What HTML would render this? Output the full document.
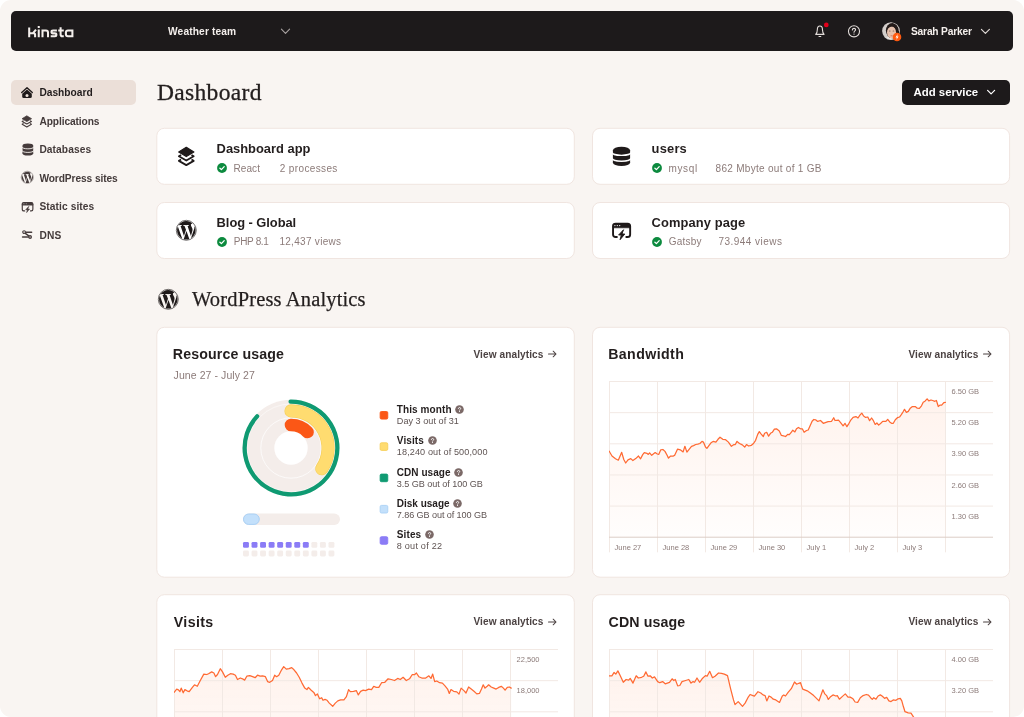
<!DOCTYPE html>
<html lang="en"><head><meta charset="utf-8"><title>Dashboard</title>
<style>
*{box-sizing:border-box;margin:0;padding:0}
html,body{width:1024px;height:717px;overflow:hidden;background:#fff}
body{font-family:"Liberation Sans",sans-serif;color:#231e1e;position:relative}
.page{position:absolute;left:0;top:0;width:1024px;height:717px;background:#f9f5f2;border-radius:11px;overflow:hidden;will-change:transform}
.abs{position:absolute;white-space:nowrap}
.topbar{position:absolute;left:11px;top:11px;width:1002px;height:40px;background:#1d1a1b;border-radius:5px}
.tb-text{color:#f4efec;font-weight:bold;font-size:10.2px;line-height:12px}
.nav-pill{position:absolute;left:11px;top:80px;width:125px;height:25px;background:#ebdfd8;border-radius:5px}
.nav{font-weight:bold;font-size:10.2px;line-height:12px;color:#433a3a;left:39.4px}
.nav.act{color:#221d1d}
.h1{font-family:"Liberation Serif",serif;font-size:23.5px;line-height:28px;color:#231e1e;letter-spacing:0.33px;-webkit-text-stroke:0.3px #231e1e}
.h2{font-family:"Liberation Serif",serif;font-size:20.5px;line-height:24px;color:#231e1e;letter-spacing:0.15px;-webkit-text-stroke:0.25px #231e1e}
.btn{position:absolute;left:902px;top:80px;width:108px;height:25px;background:#1d1a1b;border-radius:5px}
.btn span{position:absolute;left:11.5px;top:4.6px;color:#fff;font-weight:bold;font-size:11.4px;line-height:14px}
.card{position:absolute;background:#fff;border:1px solid #f1e7e1;border-radius:8px}
.ct{font-weight:bold;font-size:12.9px;line-height:16px;color:#231e1e}
.cs{font-size:10px;line-height:12px;color:#8c7b79}
.ttl{font-weight:bold;font-size:14.2px;line-height:18px;color:#231e1e}
.va{font-weight:bold;font-size:10.1px;line-height:12px;color:#4c4343}
.sub{font-size:10.5px;line-height:13px;color:#8c7b79}
.lg-t{font-weight:bold;font-size:10px;line-height:12px;color:#231e1e}
.lg-s{font-size:9.1px;line-height:11px;color:#5e5352}
.sw{position:absolute;width:8.4px;height:8.4px;border-radius:1.6px}
.chart{position:absolute;overflow:hidden}
.yl{font-family:"Liberation Sans",sans-serif;font-size:7.5px;fill:#8c7b79}
svg{display:block}
.ico{position:absolute;overflow:visible}
.dot{position:absolute;width:6px;height:6px;border-radius:1.5px;background:#f3ece8}
.dot.on{background:#8b7cf6}
</style></head><body><div class="page">

<svg class="ico" style="left:0;top:0" width="1024" height="717" viewBox="0 0 1024 717"><rect x="156.80" y="128.30" width="417.50" height="56.00" rx="7.5" fill="#fff" stroke="#f0e5e0" stroke-width="1"/><rect x="592.50" y="128.30" width="417.10" height="56.00" rx="7.5" fill="#fff" stroke="#f0e5e0" stroke-width="1"/><rect x="156.80" y="202.50" width="417.50" height="56.00" rx="7.5" fill="#fff" stroke="#f0e5e0" stroke-width="1"/><rect x="592.50" y="202.50" width="417.10" height="56.00" rx="7.5" fill="#fff" stroke="#f0e5e0" stroke-width="1"/><rect x="156.80" y="327.30" width="417.50" height="249.90" rx="7.5" fill="#fff" stroke="#f0e5e0" stroke-width="1"/><rect x="592.50" y="327.30" width="417.10" height="249.90" rx="7.5" fill="#fff" stroke="#f0e5e0" stroke-width="1"/><rect x="156.80" y="594.70" width="417.50" height="144.80" rx="7.5" fill="#fff" stroke="#f0e5e0" stroke-width="1"/><rect x="592.50" y="594.70" width="417.10" height="144.80" rx="7.5" fill="#fff" stroke="#f0e5e0" stroke-width="1"/></svg>
<div class="topbar"></div>
<svg class="ico" style="left:28.4px;top:25.6px" width="46" height="12" viewBox="0 0 46 12" fill="none" stroke="#f4efec" stroke-width="2.05">
<path d="M1.2,1.5V11.3M1.2,7.2H5L8,3.7M4.6,7.2H5.6Q7.1,7.2 7.1,8.8V11.3"/>
<path d="M10.75,3.5V11.3M10.75,0V2.1"/>
<path d="M14.5,11.3V3.5M14.5,4.5H18Q20,4.5 20,6.5V11.3"/>
<path d="M28.9,4.5H25Q23.5,4.5 23.5,5.9Q23.5,7.35 25,7.35H26.9Q28.4,7.35 28.4,8.8Q28.4,10.3 26.9,10.3H22.7"/>
<path d="M32.6,1.2V8.5Q32.6,10.3 34.3,10.3H35.8M30.2,4.5H35.8"/>
<path d="M44.4,3.5V11.3M44.4,4.5H40Q37.9,4.5 37.9,6.5V8.3Q37.9,10.3 40,10.3H44.4"/>
</svg>
<div class="abs tb-text" style="left:168px;top:26px;letter-spacing:0.14px">Weather team</div>
<svg class="ico" style="left:280px;top:27px" width="11" height="9" viewBox="0 0 11 9" fill="none" stroke="#a9a3a2" stroke-width="1.1" stroke-linecap="round" stroke-linejoin="round"><path d="M1.4,2.2L5.5,6.4L9.6,2.2"/></svg>
<svg class="ico" style="left:812px;top:23px" width="18" height="16" viewBox="0 0 18 16" fill="none" stroke="#e2dcd9" stroke-width="1.1" stroke-linecap="round" stroke-linejoin="round">
<path d="M3.7,11.35H12.1C11,10.3 10.45,9.1 10.45,6.5C10.45,4.3 9.4,2.95 7.9,2.95C6.4,2.95 5.35,4.3 5.35,6.5C5.35,9.1 4.8,10.3 3.7,11.35Z"/>
<path d="M7,13.45H8.8"/>
<circle cx="14.3" cy="1.9" r="2.35" fill="#e3001b" stroke="none"/>
</svg>
<svg class="ico" style="left:846px;top:23px" width="16" height="17" viewBox="0 0 16 17" fill="none" stroke="#e2dcd9" stroke-width="1.1" stroke-linecap="round" stroke-linejoin="round">
<circle cx="8" cy="8.35" r="5.55"/>
<path d="M6.4,6.9C6.4,5.9 7.1,5.4 8,5.4C8.9,5.4 9.6,6 9.6,6.8C9.6,7.9 8,8 8,9.3"/>
<circle cx="8" cy="11.1" r="0.7" fill="#e2dcd9" stroke="none"/>
</svg>
<svg class="ico" style="left:881px;top:21px" width="22" height="22" viewBox="0 0 22 22">
<defs><clipPath id="av"><circle cx="10" cy="10.1" r="8.3"/></clipPath></defs>
<circle cx="10" cy="10.1" r="8.9" fill="#c9c3c0"/>
<g clip-path="url(#av)">
<rect x="0" y="0" width="22" height="22" fill="#d3cecb"/>
<path d="M4.2,22V17.5Q6,15.6 8,15.4L13.5,15.4Q16,15.8 17.5,18V22Z" fill="#ebe7e4"/>
<ellipse cx="11.3" cy="9.6" rx="6.4" ry="7.6" fill="#241b19"/>
<path d="M14,10H18V18H14Z" fill="#241b19"/>
<ellipse cx="10.5" cy="11.3" rx="4.5" ry="6.1" fill="#e6c1ad"/>
<path d="M5.8,9.6C6,6 8.2,4.2 10.8,4.2C13.6,4.2 15.6,6 15.4,9.8C14.8,7.4 13.4,6 11.4,5.6C9.4,5.5 6.8,6.6 5.8,9.6Z" fill="#241b19"/>
<ellipse cx="8.8" cy="10.0" rx="0.95" ry="0.45" fill="#4a3530" opacity="0.75"/>
<ellipse cx="12.4" cy="10.0" rx="0.95" ry="0.45" fill="#4a3530" opacity="0.75"/>
<ellipse cx="10.6" cy="14.8" rx="1.3" ry="0.5" fill="#c46f62" opacity="0.85"/>
</g>
<circle cx="16" cy="16" r="4.3" fill="#ff5a10"/>
<path d="M16.7,13.1L14.5,16.4H15.9L15.3,18.9L17.6,15.5H16.2Z" fill="#fff"/>
</svg>
<div class="abs tb-text" style="left:911px;top:26px;letter-spacing:-0.18px">Sarah Parker</div>
<svg class="ico" style="left:980px;top:27px" width="11" height="9" viewBox="0 0 11 9" fill="none" stroke="#e0dad7" stroke-width="1.15" stroke-linecap="round" stroke-linejoin="round"><path d="M1.4,2.4L5.4,6.4L9.4,2.4"/></svg>
<div class="nav-pill"></div>
<div class="abs nav act" style="top:87.00px;letter-spacing:0px">Dashboard</div>
<div class="abs nav" style="top:115.60px;letter-spacing:-0.09px">Applications</div>
<div class="abs nav" style="top:144.20px;letter-spacing:0.1px">Databases</div>
<div class="abs nav" style="top:172.80px;letter-spacing:-0.09px">WordPress sites</div>
<div class="abs nav" style="top:201.40px;letter-spacing:0.1px">Static sites</div>
<div class="abs nav" style="top:230.00px;letter-spacing:0.2px">DNS</div>
<svg class="ico" style="left:20px;top:86px" width="14" height="13" viewBox="0 0 14 13">
<path d="M1.7,6.55L7,1.75L12.3,6.55" fill="none" stroke="#1f1a1a" stroke-width="1.35" stroke-linecap="round" stroke-linejoin="round"/>
<path d="M2.2,7.7L7,3.45L11.8,7.7V10.4Q11.8,11.9 10.3,11.9H3.7Q2.2,11.9 2.2,10.4Z" fill="#1f1a1a"/>
<circle cx="7" cy="9.4" r="1.5" fill="#ebdfd8"/>
</svg>
<svg class="ico" style="left:21.4px;top:114.5px" width="11.62" height="13.12" viewBox="0 0 18.6 21">
<path d="M9.3,1.3L16.9,5.95L9.3,10.6L1.7,5.95Z" fill="#463c3c" stroke="#463c3c" stroke-width="1.2" stroke-linejoin="round"/>
<path d="M4.1,9.0L1.9,10.3L9.3,14.5L16.7,10.3L14.5,9.0M4.1,13.6L1.9,14.9L9.3,19.1L16.7,14.9L14.5,13.6" fill="none" stroke="#463c3c" stroke-width="1.8" stroke-linecap="butt" stroke-linejoin="round"/>
</svg>
<svg class="ico" style="left:21.5px;top:143.1px" width="11.78" height="13.02" viewBox="0 0 19 21">
<ellipse cx="9.5" cy="4.5" rx="8.6" ry="3.8" fill="#463c3c"/>
<rect x="0.9" y="4.5" width="17.2" height="11.9" fill="#463c3c"/>
<ellipse cx="9.5" cy="16.4" rx="8.6" ry="3.7" fill="#463c3c"/>
<path d="M0.2,6.5A9.3,2.9 0 0 0 18.8,6.5M0.2,12.3A9.3,2.9 0 0 0 18.8,12.3" fill="none" stroke="#f9f5f2" stroke-width="1.45"/>
</svg>
<svg class="ico" style="left:20.65px;top:171.1px" width="12.6" height="12.6" viewBox="0 0 24 24"><circle cx="12" cy="12" r="11.625" fill="none" stroke="#463c3c" stroke-width="0.75"/><path fill="#463c3c" d="M21.469 6.825c.84 1.537 1.318 3.3 1.318 5.175 0 3.979-2.156 7.456-5.363 9.325l3.295-9.527c.615-1.54.82-2.771.82-3.864 0-.405-.026-.78-.07-1.11m-7.981.105c.647-.03 1.232-.105 1.232-.105.582-.075.514-.93-.067-.899 0 0-1.755.135-2.88.135-1.064 0-2.85-.15-2.85-.15-.585-.03-.661.855-.075.885 0 0 .54.061 1.125.09l1.68 4.605-2.37 7.08L5.354 6.9c.649-.03 1.234-.1 1.234-.1.585-.075.516-.93-.065-.896 0 0-1.746.138-2.874.138-.2 0-.438-.008-.69-.015C4.911 3.15 8.235 1.215 12 1.215c2.809 0 5.365 1.072 7.286 2.833-.046-.003-.091-.009-.141-.009-1.06 0-1.812.923-1.812 1.914 0 .89.513 1.643 1.06 2.531.411.72.89 1.643.89 2.977 0 .915-.354 1.994-.821 3.479l-1.075 3.585-3.9-11.61.001.014zM12 22.784c-1.059 0-2.081-.153-3.048-.437l3.237-9.406 3.315 9.087c.024.053.05.101.078.149-1.12.393-2.325.609-3.582.609M1.211 12c0-1.564.336-3.05.935-4.39L7.29 21.709C3.694 19.96 1.212 16.271 1.211 12"/></svg>
<svg class="ico" style="left:20.55px;top:200.5px" width="13.02" height="12.40" viewBox="0 0 21 20" fill="none" stroke="#463c3c" stroke-linecap="round" stroke-linejoin="round">
<path d="M5.9,15.95H4.6Q2.05,15.95 2.05,13.4V5.2Q2.05,2.65 4.6,2.65H16.6Q19.15,2.65 19.15,5.2V13.4Q19.15,15.95 16.6,15.95H15.3" stroke-width="1.9"/>
<path d="M2.05,6.3V5.2Q2.05,2.65 4.6,2.65H16.6Q19.15,2.65 19.15,5.2V6.3Z" fill="#463c3c" stroke-width="1"/>
<circle cx="3.9" cy="4.6" r="0.65" fill="#f9f5f2" stroke="none"/><circle cx="6.3" cy="4.6" r="0.65" fill="#f9f5f2" stroke="none"/><circle cx="8.7" cy="4.6" r="0.65" fill="#f9f5f2" stroke="none"/>
<path d="M12.3,9.0L7.6,14.0H10.3L9.1,18.7L13.8,13.0H11.3Z" fill="#463c3c" stroke-width="0.9"/>
</svg>
<svg class="ico" style="left:21px;top:229px" width="12" height="11" viewBox="0 0 12 11" fill="none" stroke="#463c3c" stroke-linecap="round" stroke-linejoin="round">
<path d="M4.4,3.25H10.6" stroke-width="1.5"/>
<path d="M1.6,8H7.6" stroke-width="1.6"/>
<path d="M4,4.1L8.1,7.1" stroke-width="1.4"/>
<circle cx="3.1" cy="3.1" r="1.35" fill="#f9f5f2" stroke-width="1.1"/>
<circle cx="9.1" cy="8" r="1.35" fill="#b9b0ae" stroke-width="1.1"/>
</svg>
<div class="abs h1" style="left:157px;top:77.6px">Dashboard</div>
<div class="btn"><span>Add service</span></div>
<svg class="ico" style="left:985px;top:88px" width="12" height="9" viewBox="0 0 12 9" fill="none" stroke="#fff" stroke-width="1.2" stroke-linecap="round" stroke-linejoin="round"><path d="M2.6,2.4L6.1,5.9L9.6,2.4"/></svg>
<div class="abs ct" style="left:216.6px;top:140.5px;letter-spacing:0px">Dashboard app</div>
<svg class="ico" style="left:217.1px;top:162.8px" width="10" height="10" viewBox="0 0 10 10"><circle cx="5" cy="5" r="4.9" fill="#0c8a3e"/><path d="M2.9,5.2L4.4,6.6L7.2,3.6" fill="none" stroke="#fff" stroke-width="1.25" stroke-linecap="round" stroke-linejoin="round"/></svg>
<div class="abs cs" style="left:233.6px;top:162.9px;letter-spacing:0.05px">React</div>
<div class="abs cs" style="left:279.8px;top:162.9px;letter-spacing:0.36px">2 processes</div>
<svg class="ico" style="left:177px;top:146px" width="18.60" height="21.00" viewBox="0 0 18.6 21">
<path d="M9.3,1.3L16.9,5.95L9.3,10.6L1.7,5.95Z" fill="#1f1a1a" stroke="#1f1a1a" stroke-width="1.2" stroke-linejoin="round"/>
<path d="M4.1,9.0L1.9,10.3L9.3,14.5L16.7,10.3L14.5,9.0M4.1,13.6L1.9,14.9L9.3,19.1L16.7,14.9L14.5,13.6" fill="none" stroke="#1f1a1a" stroke-width="1.8" stroke-linecap="butt" stroke-linejoin="round"/>
</svg>
<div class="abs ct" style="left:651.6px;top:140.5px;letter-spacing:0.2px">users</div>
<svg class="ico" style="left:652.1px;top:162.8px" width="10" height="10" viewBox="0 0 10 10"><circle cx="5" cy="5" r="4.9" fill="#0c8a3e"/><path d="M2.9,5.2L4.4,6.6L7.2,3.6" fill="none" stroke="#fff" stroke-width="1.25" stroke-linecap="round" stroke-linejoin="round"/></svg>
<div class="abs cs" style="left:668.6px;top:162.9px;letter-spacing:0.6px">mysql</div>
<div class="abs cs" style="left:715.6px;top:162.9px;letter-spacing:0.29px">862 Mbyte out of 1 GB</div>
<svg class="ico" style="left:612px;top:146px" width="19.00" height="21.00" viewBox="0 0 19 21">
<ellipse cx="9.5" cy="4.5" rx="8.6" ry="3.8" fill="#1f1a1a"/>
<rect x="0.9" y="4.5" width="17.2" height="11.9" fill="#1f1a1a"/>
<ellipse cx="9.5" cy="16.4" rx="8.6" ry="3.7" fill="#1f1a1a"/>
<path d="M0.2,6.5A9.3,2.9 0 0 0 18.8,6.5M0.2,12.3A9.3,2.9 0 0 0 18.8,12.3" fill="none" stroke="#fff" stroke-width="1.45"/>
</svg>
<div class="abs ct" style="left:216.6px;top:214.7px;letter-spacing:-0.05px">Blog - Global</div>
<svg class="ico" style="left:217.1px;top:237.0px" width="10" height="10" viewBox="0 0 10 10"><circle cx="5" cy="5" r="4.9" fill="#0c8a3e"/><path d="M2.9,5.2L4.4,6.6L7.2,3.6" fill="none" stroke="#fff" stroke-width="1.25" stroke-linecap="round" stroke-linejoin="round"/></svg>
<div class="abs cs" style="left:233.8px;top:236.1px;letter-spacing:-0.33px">PHP 8.1</div>
<div class="abs cs" style="left:279.4px;top:236.1px;letter-spacing:0.3px">12,437 views</div>
<svg class="ico" style="left:176.0px;top:220.04999999999998px" width="20.6" height="20.6" viewBox="0 0 24 24"><circle cx="12" cy="12" r="11.625" fill="none" stroke="#1f1a1a" stroke-width="0.75"/><path fill="#1f1a1a" d="M21.469 6.825c.84 1.537 1.318 3.3 1.318 5.175 0 3.979-2.156 7.456-5.363 9.325l3.295-9.527c.615-1.54.82-2.771.82-3.864 0-.405-.026-.78-.07-1.11m-7.981.105c.647-.03 1.232-.105 1.232-.105.582-.075.514-.93-.067-.899 0 0-1.755.135-2.88.135-1.064 0-2.85-.15-2.85-.15-.585-.03-.661.855-.075.885 0 0 .54.061 1.125.09l1.68 4.605-2.37 7.08L5.354 6.9c.649-.03 1.234-.1 1.234-.1.585-.075.516-.93-.065-.896 0 0-1.746.138-2.874.138-.2 0-.438-.008-.69-.015C4.911 3.15 8.235 1.215 12 1.215c2.809 0 5.365 1.072 7.286 2.833-.046-.003-.091-.009-.141-.009-1.06 0-1.812.923-1.812 1.914 0 .89.513 1.643 1.06 2.531.411.72.89 1.643.89 2.977 0 .915-.354 1.994-.821 3.479l-1.075 3.585-3.9-11.61.001.014zM12 22.784c-1.059 0-2.081-.153-3.048-.437l3.237-9.406 3.315 9.087c.024.053.05.101.078.149-1.12.393-2.325.609-3.582.609M1.211 12c0-1.564.336-3.05.935-4.39L7.29 21.709C3.694 19.96 1.212 16.271 1.211 12"/></svg>
<div class="abs ct" style="left:651.6px;top:214.7px;letter-spacing:0.1px">Company page</div>
<svg class="ico" style="left:652.1px;top:237.0px" width="10" height="10" viewBox="0 0 10 10"><circle cx="5" cy="5" r="4.9" fill="#0c8a3e"/><path d="M2.9,5.2L4.4,6.6L7.2,3.6" fill="none" stroke="#fff" stroke-width="1.25" stroke-linecap="round" stroke-linejoin="round"/></svg>
<div class="abs cs" style="left:668.7px;top:236.1px;letter-spacing:0.24px">Gatsby</div>
<div class="abs cs" style="left:718.5px;top:236.1px;letter-spacing:0.46px">73.944 views</div>
<svg class="ico" style="left:611px;top:221.0px" width="21.00" height="20.00" viewBox="0 0 21 20" fill="none" stroke="#1f1a1a" stroke-linecap="round" stroke-linejoin="round">
<path d="M5.9,15.95H4.6Q2.05,15.95 2.05,13.4V5.2Q2.05,2.65 4.6,2.65H16.6Q19.15,2.65 19.15,5.2V13.4Q19.15,15.95 16.6,15.95H15.3" stroke-width="1.9"/>
<path d="M2.05,6.3V5.2Q2.05,2.65 4.6,2.65H16.6Q19.15,2.65 19.15,5.2V6.3Z" fill="#1f1a1a" stroke-width="1"/>
<circle cx="3.9" cy="4.6" r="0.65" fill="#fff" stroke="none"/><circle cx="6.3" cy="4.6" r="0.65" fill="#fff" stroke="none"/><circle cx="8.7" cy="4.6" r="0.65" fill="#fff" stroke="none"/>
<path d="M12.3,9.0L7.6,14.0H10.3L9.1,18.7L13.8,13.0H11.3Z" fill="#1f1a1a" stroke-width="0.9"/>
</svg>
<svg class="ico" style="left:157.5px;top:288.5px" width="20.6" height="20.6" viewBox="0 0 24 24"><circle cx="12" cy="12" r="11.625" fill="none" stroke="#1f1a1a" stroke-width="0.75"/><path fill="#1f1a1a" d="M21.469 6.825c.84 1.537 1.318 3.3 1.318 5.175 0 3.979-2.156 7.456-5.363 9.325l3.295-9.527c.615-1.54.82-2.771.82-3.864 0-.405-.026-.78-.07-1.11m-7.981.105c.647-.03 1.232-.105 1.232-.105.582-.075.514-.93-.067-.899 0 0-1.755.135-2.88.135-1.064 0-2.85-.15-2.85-.15-.585-.03-.661.855-.075.885 0 0 .54.061 1.125.09l1.68 4.605-2.37 7.08L5.354 6.9c.649-.03 1.234-.1 1.234-.1.585-.075.516-.93-.065-.896 0 0-1.746.138-2.874.138-.2 0-.438-.008-.69-.015C4.911 3.15 8.235 1.215 12 1.215c2.809 0 5.365 1.072 7.286 2.833-.046-.003-.091-.009-.141-.009-1.06 0-1.812.923-1.812 1.914 0 .89.513 1.643 1.06 2.531.411.72.89 1.643.89 2.977 0 .915-.354 1.994-.821 3.479l-1.075 3.585-3.9-11.61.001.014zM12 22.784c-1.059 0-2.081-.153-3.048-.437l3.237-9.406 3.315 9.087c.024.053.05.101.078.149-1.12.393-2.325.609-3.582.609M1.211 12c0-1.564.336-3.05.935-4.39L7.29 21.709C3.694 19.96 1.212 16.271 1.211 12"/></svg>
<div class="abs h2" style="left:192px;top:287.2px">WordPress Analytics</div>
<div class="abs ttl" style="left:172.8px;top:344.9px;letter-spacing:0.12px">Resource usage</div>
<div class="abs va" style="left:473.4px;top:348.9px;letter-spacing:0.09px">View analytics</div>
<svg class="ico" style="left:547px;top:350.1px" width="10" height="8" viewBox="0 0 10 8" fill="none" stroke="#4c4343" stroke-width="1.05" stroke-linecap="round" stroke-linejoin="round"><path d="M1.5,4H9M6.2,1.2L9,4L6.2,6.8"/></svg>
<div class="abs ttl" style="left:608.2px;top:344.9px;letter-spacing:0.4px">Bandwidth</div>
<div class="abs va" style="left:908.4px;top:348.9px;letter-spacing:0.09px">View analytics</div>
<svg class="ico" style="left:982px;top:350.1px" width="10" height="8" viewBox="0 0 10 8" fill="none" stroke="#4c4343" stroke-width="1.05" stroke-linecap="round" stroke-linejoin="round"><path d="M1.5,4H9M6.2,1.2L9,4L6.2,6.8"/></svg>
<div class="abs ttl" style="left:173.8px;top:613.0px;letter-spacing:0.36px">Visits</div>
<div class="abs va" style="left:473.4px;top:616.4px;letter-spacing:0.09px">View analytics</div>
<svg class="ico" style="left:547px;top:617.6px" width="10" height="8" viewBox="0 0 10 8" fill="none" stroke="#4c4343" stroke-width="1.05" stroke-linecap="round" stroke-linejoin="round"><path d="M1.5,4H9M6.2,1.2L9,4L6.2,6.8"/></svg>
<div class="abs ttl" style="left:608.6px;top:613.0px;letter-spacing:0.11px">CDN usage</div>
<div class="abs va" style="left:908.4px;top:616.4px;letter-spacing:0.09px">View analytics</div>
<svg class="ico" style="left:982px;top:617.6px" width="10" height="8" viewBox="0 0 10 8" fill="none" stroke="#4c4343" stroke-width="1.05" stroke-linecap="round" stroke-linejoin="round"><path d="M1.5,4H9M6.2,1.2L9,4L6.2,6.8"/></svg>
<div class="abs sub" style="left:173.6px;top:369.3px;letter-spacing:0.08px">June 27 - July 27</div>
<svg class="ico" style="left:241.4px;top:397.7px" width="100" height="100" viewBox="0 0 100 100" fill="none"><circle cx="50" cy="50" r="48.3" fill="#f4edea"/><circle cx="50" cy="50" r="16.7" fill="#fff"/><circle cx="50" cy="50" r="30.2" stroke="#fff" stroke-width="0.7"/><circle cx="50" cy="50" r="44" stroke="#fff" stroke-width="0.5"/><path d="M49.60,3.65A46.35,46.35 0 1 1 16.10,18.39" stroke="#0f9a72" stroke-width="4.3" stroke-linecap="round"/><path d="M50.00,12.90A37.1,37.1 0 0 1 80.76,70.75" stroke="#f6cf5a" stroke-width="13.2" stroke-linecap="round"/><path d="M50.00,12.90A37.1,37.1 0 0 1 80.76,70.75" stroke="#ffdc70" stroke-width="12" stroke-linecap="round"/><path d="M50.00,27.00A23,23 0 0 1 66.54,34.02" stroke="#fb5716" stroke-width="12.6" stroke-linecap="round"/></svg>
<svg class="ico" style="left:240px;top:510px" width="104" height="50" viewBox="0 0 104 50"><rect x="3" y="3.5" width="97" height="11.4" rx="5.7" fill="#f4edea"/><rect x="3.5" y="4" width="15.8" height="10.4" rx="5.2" fill="#c3e0fb" stroke="#a9d0f5" stroke-width="1"/><rect x="3.00" y="31.9" width="5.9" height="5.9" rx="1.4" fill="#8b7cf6"/><rect x="11.55" y="31.9" width="5.9" height="5.9" rx="1.4" fill="#8b7cf6"/><rect x="20.10" y="31.9" width="5.9" height="5.9" rx="1.4" fill="#8b7cf6"/><rect x="28.65" y="31.9" width="5.9" height="5.9" rx="1.4" fill="#8b7cf6"/><rect x="37.20" y="31.9" width="5.9" height="5.9" rx="1.4" fill="#8b7cf6"/><rect x="45.75" y="31.9" width="5.9" height="5.9" rx="1.4" fill="#8b7cf6"/><rect x="54.30" y="31.9" width="5.9" height="5.9" rx="1.4" fill="#8b7cf6"/><rect x="62.85" y="31.9" width="5.9" height="5.9" rx="1.4" fill="#8b7cf6"/><rect x="71.40" y="31.9" width="5.9" height="5.9" rx="1.4" fill="#f4edea"/><rect x="79.95" y="31.9" width="5.9" height="5.9" rx="1.4" fill="#f4edea"/><rect x="88.50" y="31.9" width="5.9" height="5.9" rx="1.4" fill="#f4edea"/><rect x="3.00" y="40.6" width="5.9" height="5.9" rx="1.4" fill="#f4edea"/><rect x="11.55" y="40.6" width="5.9" height="5.9" rx="1.4" fill="#f4edea"/><rect x="20.10" y="40.6" width="5.9" height="5.9" rx="1.4" fill="#f4edea"/><rect x="28.65" y="40.6" width="5.9" height="5.9" rx="1.4" fill="#f4edea"/><rect x="37.20" y="40.6" width="5.9" height="5.9" rx="1.4" fill="#f4edea"/><rect x="45.75" y="40.6" width="5.9" height="5.9" rx="1.4" fill="#f4edea"/><rect x="54.30" y="40.6" width="5.9" height="5.9" rx="1.4" fill="#f4edea"/><rect x="62.85" y="40.6" width="5.9" height="5.9" rx="1.4" fill="#f4edea"/><rect x="71.40" y="40.6" width="5.9" height="5.9" rx="1.4" fill="#f4edea"/><rect x="79.95" y="40.6" width="5.9" height="5.9" rx="1.4" fill="#f4edea"/><rect x="88.50" y="40.6" width="5.9" height="5.9" rx="1.4" fill="#f4edea"/></svg>
<svg class="ico" style="left:378px;top:403px" width="12" height="20" viewBox="0 0 12 20"><rect x="2.15" y="8.50" width="7.6" height="7.6" rx="1.3" fill="#fb5716" stroke="#fb5716" stroke-width="0.9"/></svg>
<div class="abs lg-t" style="left:396.8px;top:404.0px;letter-spacing:0.09px">This month</div>
<svg class="ico" style="left:454.7px;top:405.1px" width="9" height="9" viewBox="0 0 9 9"><circle cx="4.5" cy="4.5" r="4.3" fill="#7b6967"/><path d="M3.4,3.6C3.4,2.9 3.9,2.5 4.5,2.5C5.2,2.5 5.7,2.9 5.7,3.5C5.7,4.3 4.5,4.3 4.5,5.2" fill="none" stroke="#fff" stroke-width="0.9" stroke-linecap="round"/><circle cx="4.5" cy="6.5" r="0.55" fill="#fff"/></svg>
<div class="abs lg-s" style="left:396.8px;top:416.0px;letter-spacing:0.03px">Day 3 out of 31</div>
<svg class="ico" style="left:378px;top:434px" width="12" height="20" viewBox="0 0 12 20"><rect x="2.15" y="8.80" width="7.6" height="7.6" rx="1.3" fill="#ffdc70" stroke="#f6cf5a" stroke-width="0.9"/></svg>
<div class="abs lg-t" style="left:396.8px;top:435.3px;letter-spacing:0.1px">Visits</div>
<svg class="ico" style="left:427.7px;top:436.4px" width="9" height="9" viewBox="0 0 9 9"><circle cx="4.5" cy="4.5" r="4.3" fill="#7b6967"/><path d="M3.4,3.6C3.4,2.9 3.9,2.5 4.5,2.5C5.2,2.5 5.7,2.9 5.7,3.5C5.7,4.3 4.5,4.3 4.5,5.2" fill="none" stroke="#fff" stroke-width="0.9" stroke-linecap="round"/><circle cx="4.5" cy="6.5" r="0.55" fill="#fff"/></svg>
<div class="abs lg-s" style="left:396.8px;top:447.3px;letter-spacing:0.11px">18,240 out of 500,000</div>
<svg class="ico" style="left:378px;top:466px" width="12" height="20" viewBox="0 0 12 20"><rect x="2.15" y="8.10" width="7.6" height="7.6" rx="1.3" fill="#0f9a72" stroke="#0f9a72" stroke-width="0.9"/></svg>
<div class="abs lg-t" style="left:396.8px;top:466.6px;letter-spacing:0.05px">CDN usage</div>
<svg class="ico" style="left:454.1px;top:467.7px" width="9" height="9" viewBox="0 0 9 9"><circle cx="4.5" cy="4.5" r="4.3" fill="#7b6967"/><path d="M3.4,3.6C3.4,2.9 3.9,2.5 4.5,2.5C5.2,2.5 5.7,2.9 5.7,3.5C5.7,4.3 4.5,4.3 4.5,5.2" fill="none" stroke="#fff" stroke-width="0.9" stroke-linecap="round"/><circle cx="4.5" cy="6.5" r="0.55" fill="#fff"/></svg>
<div class="abs lg-s" style="left:396.8px;top:478.6px;letter-spacing:-0.05px">3.5 GB out of 100 GB</div>
<svg class="ico" style="left:378px;top:497px" width="12" height="20" viewBox="0 0 12 20"><rect x="2.15" y="8.40" width="7.6" height="7.6" rx="1.3" fill="#c3e0fb" stroke="#a9d0f5" stroke-width="0.9"/></svg>
<div class="abs lg-t" style="left:396.8px;top:497.9px;letter-spacing:0px">Disk usage</div>
<svg class="ico" style="left:453.4px;top:499.0px" width="9" height="9" viewBox="0 0 9 9"><circle cx="4.5" cy="4.5" r="4.3" fill="#7b6967"/><path d="M3.4,3.6C3.4,2.9 3.9,2.5 4.5,2.5C5.2,2.5 5.7,2.9 5.7,3.5C5.7,4.3 4.5,4.3 4.5,5.2" fill="none" stroke="#fff" stroke-width="0.9" stroke-linecap="round"/><circle cx="4.5" cy="6.5" r="0.55" fill="#fff"/></svg>
<div class="abs lg-s" style="left:396.8px;top:509.8px;letter-spacing:-0.09px">7.86 GB out of 100 GB</div>
<svg class="ico" style="left:378px;top:528px" width="12" height="20" viewBox="0 0 12 20"><rect x="2.15" y="8.70" width="7.6" height="7.6" rx="1.3" fill="#8b7cf6" stroke="#8b7cf6" stroke-width="0.9"/></svg>
<div class="abs lg-t" style="left:396.8px;top:529.2px;letter-spacing:0.1px">Sites</div>
<svg class="ico" style="left:425.1px;top:530.3px" width="9" height="9" viewBox="0 0 9 9"><circle cx="4.5" cy="4.5" r="4.3" fill="#7b6967"/><path d="M3.4,3.6C3.4,2.9 3.9,2.5 4.5,2.5C5.2,2.5 5.7,2.9 5.7,3.5C5.7,4.3 4.5,4.3 4.5,5.2" fill="none" stroke="#fff" stroke-width="0.9" stroke-linecap="round"/><circle cx="4.5" cy="6.5" r="0.55" fill="#fff"/></svg>
<div class="abs lg-s" style="left:396.8px;top:541.1px;letter-spacing:0.22px">8 out of 22</div>
<svg class="chart" style="left:609px;top:381px" width="386" height="172" viewBox="0 0 386 172"><defs><linearGradient id="g1" x1="0" y1="0" x2="0" y2="1"><stop offset="0" stop-color="#ff6e2c" stop-opacity="0.085"/><stop offset="1" stop-color="#ff6e2c" stop-opacity="0.012"/></linearGradient></defs><path d="M0.2,70.2 L3.0,75.0 L6.5,77.8 L9.3,79.2 L12.7,71.3 L14.8,78.5 L16.7,82.0 L19.0,78.9 L21.8,77.6 L23.9,79.6 L26.7,77.6 L29.5,75.0 L31.6,77.8 L33.7,73.6 L35.3,71.6 L37.9,72.3 L39.3,73.4 L40.6,71.8 L42.7,74.3 L46.2,71.6 L48.3,73.0 L49.7,73.4 L51.8,68.8 L53.9,68.5 L56.0,70.4 L58.1,74.3 L59.5,77.1 L61.6,75.0 L64.4,75.0 L65.8,74.1 L68.6,68.1 L71.3,68.8 L74.1,70.9 L75.9,65.3 L77.9,71.1 L79.7,68.8 L82.5,65.3 L84.6,64.6 L86.7,63.5 L88.8,63.2 L90.9,62.5 L93.0,60.4 L94.4,61.1 L96.5,66.0 L97.9,67.4 L99.9,64.6 L102.0,61.8 L104.1,60.4 L106.9,61.1 L109.0,58.3 L111.0,56.2 L113.8,58.3 L116.6,58.7 L119.4,61.1 L122.4,65.3 L125.0,63.5 L126.3,63.5 L128.0,60.4 L130.5,62.5 L133.3,63.9 L135.7,66.0 L137.5,63.6 L139.6,65.0 L142.4,64.3 L144.5,62.5 L146.6,59.3 L148.7,53.4 L150.3,50.6 L152.2,53.1 L154.3,55.5 L155.6,52.3 L157.7,51.3 L159.6,55.2 L161.5,52.3 L163.3,51.3 L165.4,48.1 L167.5,47.8 L170.3,49.9 L172.4,54.4 L174.5,54.8 L176.6,55.5 L178.7,53.4 L180.3,53.7 L182.2,51.3 L183.8,49.2 L185.9,50.9 L187.5,47.8 L189.4,46.4 L191.5,47.8 L193.3,47.8 L195.1,51.3 L197.5,49.5 L199.2,49.0 L201.0,45.0 L203.1,40.2 L204.8,38.5 L206.6,38.8 L208.7,40.4 L211.5,39.5 L214.3,42.3 L217.0,41.3 L219.1,40.6 L222.6,40.3 L224.7,36.7 L226.0,39.5 L229.5,39.2 L231.6,41.6 L234.1,44.8 L236.0,42.3 L237.9,45.7 L240.0,42.3 L242.0,38.8 L244.1,36.3 L246.9,35.6 L249.0,37.0 L251.1,33.9 L252.8,32.1 L254.6,35.0 L256.7,36.4 L258.8,36.0 L260.6,39.7 L262.6,37.0 L264.4,39.7 L266.2,43.4 L267.9,42.0 L269.7,44.1 L271.8,42.3 L273.7,40.4 L276.9,40.4 L278.7,38.3 L280.7,40.9 L282.5,42.3 L284.3,42.3 L286.3,38.8 L288.4,36.7 L290.5,36.0 L292.3,33.6 L294.1,30.8 L295.5,28.3 L297.4,31.4 L299.3,30.4 L301.3,27.2 L303.4,25.5 L306.2,25.5 L308.3,27.2 L310.4,27.3 L312.5,24.8 L314.2,21.3 L316.0,20.2 L318.1,17.8 L319.8,19.9 L322.0,19.0 L323.7,19.5 L325.8,20.3 L327.4,19.5 L329.3,25.5 L330.9,24.1 L332.7,24.1 L334.8,21.7 L336.5,21.3 L336.5,155.8 L0.2,155.8 Z" fill="url(#g1)"/><rect x="0" y="0.00" width="384" height="1" fill="#f2e9e4"/><rect x="0" y="31.15" width="384" height="1" fill="#f2e9e4"/><rect x="0" y="62.30" width="384" height="1" fill="#f2e9e4"/><rect x="0" y="93.45" width="384" height="1" fill="#f2e9e4"/><rect x="0" y="124.60" width="384" height="1" fill="#f2e9e4"/><rect x="0" y="0" width="1" height="171.3" fill="#f2e9e4"/><rect x="48" y="0" width="1" height="171.3" fill="#f2e9e4"/><rect x="96" y="0" width="1" height="171.3" fill="#f2e9e4"/><rect x="144" y="0" width="1" height="171.3" fill="#f2e9e4"/><rect x="192" y="0" width="1" height="171.3" fill="#f2e9e4"/><rect x="240" y="0" width="1" height="171.3" fill="#f2e9e4"/><rect x="288" y="0" width="1" height="171.3" fill="#f2e9e4"/><rect x="336" y="0" width="1" height="171.3" fill="#f2e9e4"/><rect x="0" y="155.70" width="384" height="1" fill="#dccdc7"/><path d="M0.2,70.2 L3.0,75.0 L6.5,77.8 L9.3,79.2 L12.7,71.3 L14.8,78.5 L16.7,82.0 L19.0,78.9 L21.8,77.6 L23.9,79.6 L26.7,77.6 L29.5,75.0 L31.6,77.8 L33.7,73.6 L35.3,71.6 L37.9,72.3 L39.3,73.4 L40.6,71.8 L42.7,74.3 L46.2,71.6 L48.3,73.0 L49.7,73.4 L51.8,68.8 L53.9,68.5 L56.0,70.4 L58.1,74.3 L59.5,77.1 L61.6,75.0 L64.4,75.0 L65.8,74.1 L68.6,68.1 L71.3,68.8 L74.1,70.9 L75.9,65.3 L77.9,71.1 L79.7,68.8 L82.5,65.3 L84.6,64.6 L86.7,63.5 L88.8,63.2 L90.9,62.5 L93.0,60.4 L94.4,61.1 L96.5,66.0 L97.9,67.4 L99.9,64.6 L102.0,61.8 L104.1,60.4 L106.9,61.1 L109.0,58.3 L111.0,56.2 L113.8,58.3 L116.6,58.7 L119.4,61.1 L122.4,65.3 L125.0,63.5 L126.3,63.5 L128.0,60.4 L130.5,62.5 L133.3,63.9 L135.7,66.0 L137.5,63.6 L139.6,65.0 L142.4,64.3 L144.5,62.5 L146.6,59.3 L148.7,53.4 L150.3,50.6 L152.2,53.1 L154.3,55.5 L155.6,52.3 L157.7,51.3 L159.6,55.2 L161.5,52.3 L163.3,51.3 L165.4,48.1 L167.5,47.8 L170.3,49.9 L172.4,54.4 L174.5,54.8 L176.6,55.5 L178.7,53.4 L180.3,53.7 L182.2,51.3 L183.8,49.2 L185.9,50.9 L187.5,47.8 L189.4,46.4 L191.5,47.8 L193.3,47.8 L195.1,51.3 L197.5,49.5 L199.2,49.0 L201.0,45.0 L203.1,40.2 L204.8,38.5 L206.6,38.8 L208.7,40.4 L211.5,39.5 L214.3,42.3 L217.0,41.3 L219.1,40.6 L222.6,40.3 L224.7,36.7 L226.0,39.5 L229.5,39.2 L231.6,41.6 L234.1,44.8 L236.0,42.3 L237.9,45.7 L240.0,42.3 L242.0,38.8 L244.1,36.3 L246.9,35.6 L249.0,37.0 L251.1,33.9 L252.8,32.1 L254.6,35.0 L256.7,36.4 L258.8,36.0 L260.6,39.7 L262.6,37.0 L264.4,39.7 L266.2,43.4 L267.9,42.0 L269.7,44.1 L271.8,42.3 L273.7,40.4 L276.9,40.4 L278.7,38.3 L280.7,40.9 L282.5,42.3 L284.3,42.3 L286.3,38.8 L288.4,36.7 L290.5,36.0 L292.3,33.6 L294.1,30.8 L295.5,28.3 L297.4,31.4 L299.3,30.4 L301.3,27.2 L303.4,25.5 L306.2,25.5 L308.3,27.2 L310.4,27.3 L312.5,24.8 L314.2,21.3 L316.0,20.2 L318.1,17.8 L319.8,19.9 L322.0,19.0 L323.7,19.5 L325.8,20.3 L327.4,19.5 L329.3,25.5 L330.9,24.1 L332.7,24.1 L334.8,21.7 L336.5,21.3" fill="none" stroke="#ff6a33" stroke-width="1.25" stroke-linejoin="round" stroke-linecap="round"/><text x="342.6" y="12.7" class="yl">6.50 GB</text><text x="342.6" y="44.0" class="yl">5.20 GB</text><text x="342.6" y="75.4" class="yl">3.90 GB</text><text x="342.6" y="106.8" class="yl">2.60 GB</text><text x="342.6" y="138.1" class="yl">1.30 GB</text><text x="5.6" y="169.1" class="yl">June 27</text><text x="53.6" y="169.1" class="yl">June 28</text><text x="101.6" y="169.1" class="yl">June 29</text><text x="149.6" y="169.1" class="yl">June 30</text><text x="197.6" y="169.1" class="yl">July 1</text><text x="245.6" y="169.1" class="yl">July 2</text><text x="293.6" y="169.1" class="yl">July 3</text></svg>
<svg class="chart" style="left:173.5px;top:648.7px" width="386" height="69" viewBox="0 0 386 69"><defs><linearGradient id="g2" x1="0" y1="0" x2="0" y2="1"><stop offset="0" stop-color="#ff6e2c" stop-opacity="0.085"/><stop offset="1" stop-color="#ff6e2c" stop-opacity="0.012"/></linearGradient></defs><path d="M0.1,43.4 L2.7,40.1 L4.4,40.8 L5.9,42.7 L7.2,39.1 L9.2,43.8 L10.9,40.6 L13.0,41.8 L15.2,42.7 L18.4,38.4 L20.5,35.8 L23.3,37.3 L26.3,31.5 L29.8,25.1 L32.8,25.5 L34.5,24.7 L37.7,22.9 L39.9,24.0 L41.6,27.7 L43.5,25.5 L46.3,19.7 L48.5,22.9 L51.3,28.3 L53.8,26.2 L56.4,24.7 L59.2,25.1 L61.4,26.2 L63.5,30.5 L66.3,29.0 L68.5,29.8 L70.6,31.1 L72.8,27.2 L75.8,26.6 L78.6,27.7 L81.1,28.7 L83.5,26.2 L86.1,27.2 L88.6,26.8 L91.4,27.7 L93.6,32.6 L95.7,33.3 L98.5,31.5 L100.7,26.2 L102.6,27.7 L104.8,26.2 L107.6,20.8 L109.7,17.6 L112.3,20.1 L115.1,19.7 L117.7,18.6 L120.0,20.8 L122.6,24.0 L125.2,28.3 L128.0,34.1 L130.8,39.1 L132.9,40.6 L134.4,38.4 L137.2,41.2 L139.8,43.4 L141.5,46.6 L143.4,44.9 L145.6,49.8 L147.7,48.7 L149.0,51.3 L151.0,50.4 L153.1,51.3 L155.3,54.1 L158.7,57.3 L161.3,54.1 L163.8,51.9 L166.6,50.9 L169.9,50.9 L172.4,47.6 L174.6,40.6 L176.3,42.7 L179.5,42.3 L182.3,41.6 L184.3,45.9 L186.6,42.3 L189.2,41.2 L191.5,41.6 L194.7,40.1 L197.5,40.6 L199.7,37.3 L202.2,38.4 L204.8,38.4 L207.6,33.7 L210.8,33.3 L214.1,29.8 L217.3,30.5 L220.5,31.5 L223.7,29.4 L226.3,30.5 L229.1,28.3 L232.3,31.5 L235.5,29.8 L238.3,25.5 L240.5,25.7 L242.4,24.0 L244.8,27.7 L247.8,29.0 L251.7,29.0 L254.9,26.8 L257.0,29.4 L258.7,25.1 L260.7,32.6 L262.8,32.0 L265.6,33.7 L268.4,34.1 L271.0,36.9 L273.6,40.1 L275.3,44.4 L277.0,40.6 L279.6,42.3 L282.8,42.9 L285.0,45.1 L287.1,39.1 L289.9,41.6 L292.0,44.0 L294.6,38.0 L297.2,40.1 L300.0,42.3 L302.8,44.9 L305.4,44.4 L307.5,40.1 L309.2,35.8 L311.0,39.1 L312.9,37.6 L314.6,35.8 L317.2,38.0 L319.8,39.1 L322.1,40.1 L324.7,38.4 L327.3,37.3 L329.4,39.1 L331.1,41.2 L333.3,38.4 L335.4,38.0 L337.2,39.1 L337.2,155.8 L0.1,155.8 Z" fill="url(#g2)"/><rect x="0" y="0.00" width="384" height="1" fill="#f2e9e4"/><rect x="0" y="31.15" width="384" height="1" fill="#f2e9e4"/><rect x="0" y="62.30" width="384" height="1" fill="#f2e9e4"/><rect x="0" y="0" width="1" height="69.0" fill="#f2e9e4"/><rect x="48" y="0" width="1" height="69.0" fill="#f2e9e4"/><rect x="96" y="0" width="1" height="69.0" fill="#f2e9e4"/><rect x="144" y="0" width="1" height="69.0" fill="#f2e9e4"/><rect x="192" y="0" width="1" height="69.0" fill="#f2e9e4"/><rect x="240" y="0" width="1" height="69.0" fill="#f2e9e4"/><rect x="288" y="0" width="1" height="69.0" fill="#f2e9e4"/><rect x="336" y="0" width="1" height="69.0" fill="#f2e9e4"/><path d="M0.1,43.4 L2.7,40.1 L4.4,40.8 L5.9,42.7 L7.2,39.1 L9.2,43.8 L10.9,40.6 L13.0,41.8 L15.2,42.7 L18.4,38.4 L20.5,35.8 L23.3,37.3 L26.3,31.5 L29.8,25.1 L32.8,25.5 L34.5,24.7 L37.7,22.9 L39.9,24.0 L41.6,27.7 L43.5,25.5 L46.3,19.7 L48.5,22.9 L51.3,28.3 L53.8,26.2 L56.4,24.7 L59.2,25.1 L61.4,26.2 L63.5,30.5 L66.3,29.0 L68.5,29.8 L70.6,31.1 L72.8,27.2 L75.8,26.6 L78.6,27.7 L81.1,28.7 L83.5,26.2 L86.1,27.2 L88.6,26.8 L91.4,27.7 L93.6,32.6 L95.7,33.3 L98.5,31.5 L100.7,26.2 L102.6,27.7 L104.8,26.2 L107.6,20.8 L109.7,17.6 L112.3,20.1 L115.1,19.7 L117.7,18.6 L120.0,20.8 L122.6,24.0 L125.2,28.3 L128.0,34.1 L130.8,39.1 L132.9,40.6 L134.4,38.4 L137.2,41.2 L139.8,43.4 L141.5,46.6 L143.4,44.9 L145.6,49.8 L147.7,48.7 L149.0,51.3 L151.0,50.4 L153.1,51.3 L155.3,54.1 L158.7,57.3 L161.3,54.1 L163.8,51.9 L166.6,50.9 L169.9,50.9 L172.4,47.6 L174.6,40.6 L176.3,42.7 L179.5,42.3 L182.3,41.6 L184.3,45.9 L186.6,42.3 L189.2,41.2 L191.5,41.6 L194.7,40.1 L197.5,40.6 L199.7,37.3 L202.2,38.4 L204.8,38.4 L207.6,33.7 L210.8,33.3 L214.1,29.8 L217.3,30.5 L220.5,31.5 L223.7,29.4 L226.3,30.5 L229.1,28.3 L232.3,31.5 L235.5,29.8 L238.3,25.5 L240.5,25.7 L242.4,24.0 L244.8,27.7 L247.8,29.0 L251.7,29.0 L254.9,26.8 L257.0,29.4 L258.7,25.1 L260.7,32.6 L262.8,32.0 L265.6,33.7 L268.4,34.1 L271.0,36.9 L273.6,40.1 L275.3,44.4 L277.0,40.6 L279.6,42.3 L282.8,42.9 L285.0,45.1 L287.1,39.1 L289.9,41.6 L292.0,44.0 L294.6,38.0 L297.2,40.1 L300.0,42.3 L302.8,44.9 L305.4,44.4 L307.5,40.1 L309.2,35.8 L311.0,39.1 L312.9,37.6 L314.6,35.8 L317.2,38.0 L319.8,39.1 L322.1,40.1 L324.7,38.4 L327.3,37.3 L329.4,39.1 L331.1,41.2 L333.3,38.4 L335.4,38.0 L337.2,39.1" fill="none" stroke="#ff6a33" stroke-width="1.25" stroke-linejoin="round" stroke-linecap="round"/><text x="342.6" y="12.7" class="yl">22,500</text><text x="342.6" y="44.0" class="yl">18,000</text><text x="342.6" y="75.4" class="yl">13,500</text></svg>
<svg class="chart" style="left:609px;top:648.7px" width="386" height="69" viewBox="0 0 386 69"><defs><linearGradient id="g3" x1="0" y1="0" x2="0" y2="1"><stop offset="0" stop-color="#ff6e2c" stop-opacity="0.085"/><stop offset="1" stop-color="#ff6e2c" stop-opacity="0.012"/></linearGradient></defs><path d="M0.3,26.8 L2.9,26.8 L5.1,23.4 L6.8,25.1 L8.9,21.9 L11.5,27.2 L14.3,33.3 L17.1,30.5 L19.7,31.1 L21.2,29.4 L24.0,34.1 L27.2,26.8 L29.3,29.0 L32.6,28.3 L34.7,27.2 L36.9,22.9 L39.0,27.2 L41.2,26.8 L43.3,29.0 L45.5,27.9 L48.7,32.6 L50.8,33.7 L53.6,32.6 L56.2,34.8 L60.5,33.3 L63.1,29.8 L64.8,31.5 L66.3,30.5 L68.7,36.9 L70.8,36.5 L73.0,32.6 L76.6,31.5 L79.8,30.5 L82.0,34.1 L84.1,32.6 L85.6,33.3 L88.0,29.0 L90.6,33.3 L93.1,29.8 L96.4,26.6 L98.1,27.2 L100.7,22.3 L103.5,28.7 L106.0,27.2 L109.5,24.0 L112.5,24.4 L115.3,25.1 L118.5,26.6 L121.7,40.1 L124.5,50.9 L126.0,55.6 L129.2,52.6 L133.5,57.3 L136.1,54.1 L138.9,48.7 L141.1,45.5 L143.9,46.6 L145.4,47.2 L149.0,42.7 L151.8,44.0 L154.0,45.9 L156.1,46.6 L157.8,51.9 L160.0,47.0 L162.1,48.1 L164.3,50.2 L166.8,50.9 L170.5,53.4 L173.3,47.0 L174.8,45.9 L176.5,47.0 L179.1,43.4 L182.3,39.7 L185.5,33.0 L187.7,35.2 L189.8,34.3 L191.5,33.7 L193.7,40.1 L195.0,40.6 L198.2,41.8 L201.4,44.0 L204.7,46.6 L207.5,49.4 L210.0,51.9 L212.2,45.5 L213.9,40.8 L215.8,44.9 L217.6,46.6 L219.3,50.4 L221.2,48.1 L224.0,45.9 L226.8,47.0 L228.3,46.6 L230.4,50.2 L233.2,47.6 L236.3,44.9 L239.0,48.1 L241.2,48.1 L244.0,49.8 L246.1,53.0 L248.7,53.4 L251.3,48.7 L254.1,46.6 L257.3,45.5 L259.5,46.1 L261.6,48.7 L263.3,50.4 L264.8,48.7 L267.0,50.2 L269.1,47.0 L271.3,45.9 L273.4,47.2 L275.6,49.4 L277.7,48.3 L279.9,51.9 L282.0,52.6 L284.2,50.9 L287.0,51.3 L289.1,49.8 L291.3,49.4 L292.8,51.9 L294.3,57.3 L296.0,62.7 L299.2,63.8 L302.0,64.2 L304.6,68.1 L308.9,78.8 L308.9,155.8 L0.3,155.8 Z" fill="url(#g3)"/><rect x="0" y="0.00" width="384" height="1" fill="#f2e9e4"/><rect x="0" y="31.15" width="384" height="1" fill="#f2e9e4"/><rect x="0" y="62.30" width="384" height="1" fill="#f2e9e4"/><rect x="0" y="0" width="1" height="69.0" fill="#f2e9e4"/><rect x="48" y="0" width="1" height="69.0" fill="#f2e9e4"/><rect x="96" y="0" width="1" height="69.0" fill="#f2e9e4"/><rect x="144" y="0" width="1" height="69.0" fill="#f2e9e4"/><rect x="192" y="0" width="1" height="69.0" fill="#f2e9e4"/><rect x="240" y="0" width="1" height="69.0" fill="#f2e9e4"/><rect x="288" y="0" width="1" height="69.0" fill="#f2e9e4"/><rect x="336" y="0" width="1" height="69.0" fill="#f2e9e4"/><path d="M0.3,26.8 L2.9,26.8 L5.1,23.4 L6.8,25.1 L8.9,21.9 L11.5,27.2 L14.3,33.3 L17.1,30.5 L19.7,31.1 L21.2,29.4 L24.0,34.1 L27.2,26.8 L29.3,29.0 L32.6,28.3 L34.7,27.2 L36.9,22.9 L39.0,27.2 L41.2,26.8 L43.3,29.0 L45.5,27.9 L48.7,32.6 L50.8,33.7 L53.6,32.6 L56.2,34.8 L60.5,33.3 L63.1,29.8 L64.8,31.5 L66.3,30.5 L68.7,36.9 L70.8,36.5 L73.0,32.6 L76.6,31.5 L79.8,30.5 L82.0,34.1 L84.1,32.6 L85.6,33.3 L88.0,29.0 L90.6,33.3 L93.1,29.8 L96.4,26.6 L98.1,27.2 L100.7,22.3 L103.5,28.7 L106.0,27.2 L109.5,24.0 L112.5,24.4 L115.3,25.1 L118.5,26.6 L121.7,40.1 L124.5,50.9 L126.0,55.6 L129.2,52.6 L133.5,57.3 L136.1,54.1 L138.9,48.7 L141.1,45.5 L143.9,46.6 L145.4,47.2 L149.0,42.7 L151.8,44.0 L154.0,45.9 L156.1,46.6 L157.8,51.9 L160.0,47.0 L162.1,48.1 L164.3,50.2 L166.8,50.9 L170.5,53.4 L173.3,47.0 L174.8,45.9 L176.5,47.0 L179.1,43.4 L182.3,39.7 L185.5,33.0 L187.7,35.2 L189.8,34.3 L191.5,33.7 L193.7,40.1 L195.0,40.6 L198.2,41.8 L201.4,44.0 L204.7,46.6 L207.5,49.4 L210.0,51.9 L212.2,45.5 L213.9,40.8 L215.8,44.9 L217.6,46.6 L219.3,50.4 L221.2,48.1 L224.0,45.9 L226.8,47.0 L228.3,46.6 L230.4,50.2 L233.2,47.6 L236.3,44.9 L239.0,48.1 L241.2,48.1 L244.0,49.8 L246.1,53.0 L248.7,53.4 L251.3,48.7 L254.1,46.6 L257.3,45.5 L259.5,46.1 L261.6,48.7 L263.3,50.4 L264.8,48.7 L267.0,50.2 L269.1,47.0 L271.3,45.9 L273.4,47.2 L275.6,49.4 L277.7,48.3 L279.9,51.9 L282.0,52.6 L284.2,50.9 L287.0,51.3 L289.1,49.8 L291.3,49.4 L292.8,51.9 L294.3,57.3 L296.0,62.7 L299.2,63.8 L302.0,64.2 L304.6,68.1 L308.9,78.8" fill="none" stroke="#ff6a33" stroke-width="1.25" stroke-linejoin="round" stroke-linecap="round"/><text x="342.6" y="12.7" class="yl">4.00 GB</text><text x="342.6" y="44.0" class="yl">3.20 GB</text><text x="342.6" y="75.4" class="yl">2.40 GB</text></svg>
</div></body></html>
